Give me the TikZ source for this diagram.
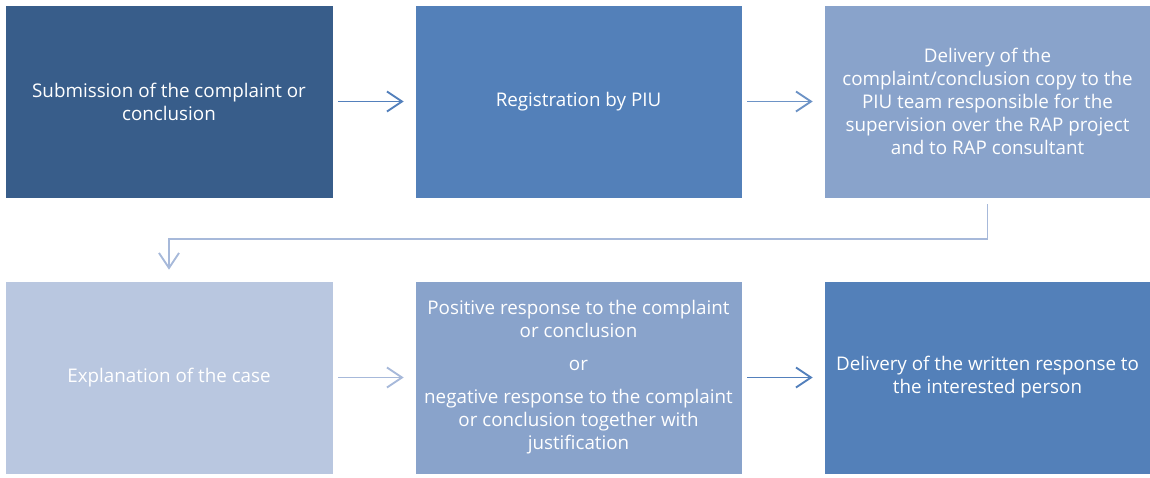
\documentclass[tikz,border=0pt]{standalone}
\usepackage{fontspec}
\setmainfont{Open Sans}
\usetikzlibrary{arrows.meta}
\definecolor{cDark}{HTML}{385D8A}
\definecolor{cMid}{HTML}{5380B9}
\definecolor{cSoft}{HTML}{89A3CB}
\definecolor{cPale}{HTML}{B9C7E0}
\definecolor{aMid}{HTML}{5380BC}
\definecolor{aPale}{HTML}{A7B9DA}
\tikzset{
  stepbox/.style={draw=white, line width=0.6pt, minimum height=193pt, inner sep=0pt,
    text=white, align=center, font=\fontsize{18.8}{23}\selectfont},
  w328/.style={minimum width=328pt},
  w327/.style={minimum width=327pt},
  flow/.style={line width=1.9pt, -{Straight Barb[length=15pt,width=20pt,line width=1.9pt]},
    shorten <=5pt, shorten >=11pt},
}
\begin{document}
\begin{tikzpicture}[x=1pt,y=1pt]
\useasboundingbox (0,0) rectangle (1150,-477);
\node[stepbox, w328, fill=cDark] (b1) at (169,-101.5) {Submission of the complaint or\\conclusion};
\node[stepbox, w327, fill=cMid] (b2) at (578.5,-101.5) {Registration by PIU};
\node[stepbox, w327, fill=cSoft] (b3) at (987.5,-101.5) {Delivery of the\\complaint/conclusion copy to the\\PIU team responsible for the\\supervision over the RAP project\\and to RAP consultant};
\node[stepbox, w328, fill=cPale] (b4) at (169,-377.5) {Explanation of the case};
\node[stepbox, w327, fill=cSoft] (b5) at (578.5,-377.5) {Positive response to the complaint\\or conclusion\\[10pt]or\\[10pt]negative response to the complaint\\or conclusion together with\\justification};
\node[stepbox, w327, fill=cMid] (b6) at (987.5,-377.5) {Delivery of the written response to\\the interested person};
\coordinate (elb) at (0,-239);
\draw[flow, color=aMid] (b1) -- (b2);
\draw[flow, color=aMid!85!white] (b2) -- (b3);
\draw[flow, color=aPale, line width=1.5pt, shorten <=6pt] (b3.south) -- (b3.south |- elb) -| (b4.north);
\draw[flow, color=aPale] (b4) -- (b5);
\draw[flow, color=aMid] (b5) -- (b6);
\end{tikzpicture}
\end{document}
